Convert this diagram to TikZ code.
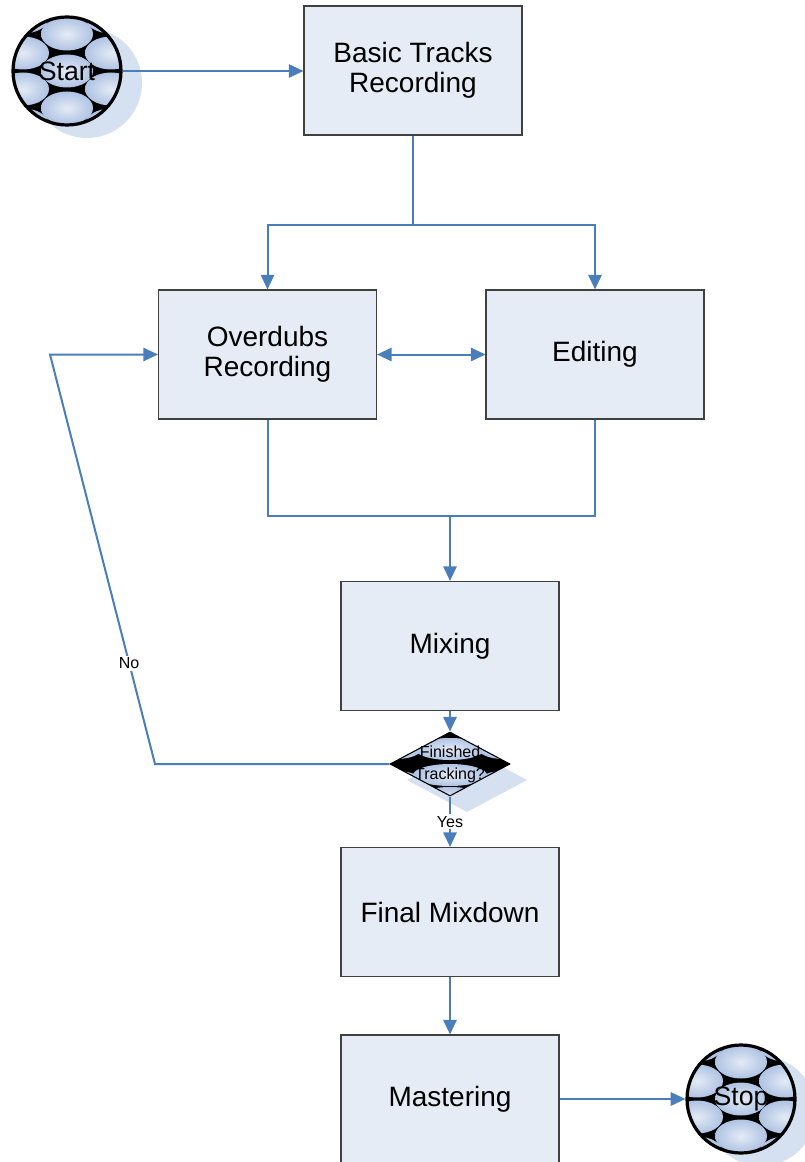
\documentclass[tikz,border=0pt]{standalone}
\usepackage{fontspec}
\setmainfont{Liberation Sans}
\usetikzlibrary{shapes.geometric,arrows.meta}
\definecolor{boxfill}{HTML}{E6ECF6}
\definecolor{lineblue}{HTML}{4A7EBB}
\definecolor{shadowblue}{HTML}{D5E0F0}
\definecolor{ballblue}{HTML}{AFC3E3}
\definecolor{ballcenter}{HTML}{E4EBF6}
\newcommand{\myball}[1]{%
  \begin{scope}[shift={(#1)}]
    \fill[shadowblue] (20,12) circle[radius=55];
    \begin{scope}
      \clip (0,0) circle[radius=54];
      \fill[black] (0,0) circle[radius=55];
      \foreach \a/\b in {0/-37,0/0,0/37,-44/-18,-44/18,44/-18,44/18,-44/54,44/54,-44/-54,44/-54}
        \shade[inner color=ballcenter, outer color=ballblue] (\a,\b) ellipse[x radius=26, y radius=16.5];
    \end{scope}
  \end{scope}}
\begin{document}
\begin{tikzpicture}[x=0.75pt,y=-0.75pt,
  proc/.style={rectangle, draw=black!75, fill=boxfill, line width=0.8pt,
    minimum width=163.5pt, minimum height=96.75pt, align=center,
    font=\fontsize{21}{22.5}\selectfont},
  ball/.style={circle, draw=black, line width=2.4pt, minimum size=81pt, inner sep=0pt,
    font=\fontsize{20}{22}\selectfont},
  lab/.style={font=\fontsize{12}{14}\selectfont, fill=white, inner sep=1.5pt},
  line/.style={draw=lineblue, line width=1.5pt},
  conn/.style={line, -{Triangle[length=11pt,width=10pt]}},
  dconn/.style={line, {Triangle[length=11pt,width=10pt]}-{Triangle[length=11pt,width=10pt]}}]
\useasboundingbox (0,0) rectangle (805,1162);

% process boxes
\node[proc] (basic) at (413,70.5) {Basic Tracks\\Recording};
\node[proc] (overdubs) at (267.5,354.5) {Overdubs\\Recording};
\node[proc] (editing) at (595,354.5) {Editing};
\node[proc] (mixing) at (450,646) {Mixing};
\node[proc] (final) at (450,912) {Final Mixdown};
\node[proc] (mastering) at (450,1099.5) {Mastering};

% start / stop balls
\myball{67,71}
\node[ball] (start) at (67,71) {Start};
\myball{741,1099}
\node[ball] (stop) at (741,1099) {Stop};

% decision diamond
\fill[shadowblue] (407,780) -- (467,748) -- (527,780) -- (467,812) -- cycle;
\begin{scope}
  \clip (390,764) -- (450,732) -- (510,764) -- (450,796) -- cycle;
  \fill[black] (390,764) -- (450,732) -- (510,764) -- (450,796) -- cycle;
  \foreach \a/\b/\r in {450/749/35,450/775/37,450/798/33,397/748/25,503/748/25,397/782/25,503/782/25}
    \shade[inner color=ballcenter, outer color=ballblue] (\a,\b) ellipse[x radius=\r, y radius=11];
\end{scope}
\node[diamond, draw=black, line width=0.8pt, minimum width=90pt, minimum height=48pt,
  inner sep=0pt, aspect=1.875,
  label={[font=\fontsize{12}{16.5}\selectfont, align=center]center:Finished\\Tracking?}] (dec) at (450,764) {};

% connectors
\coordinate (split) at (413,225);
\coordinate (merge) at (450,516);
\coordinate (nobottom) at (155,764);
\coordinate (notop) at (50,354.5);

\draw[conn] (start.east) -- (start.east -| basic.west);
\draw[line] (basic.south) -- (split);
\draw[conn] (split) -| (overdubs.north);
\draw[conn] (split) -| (editing.north);
\draw[dconn] (overdubs.east) -- (editing.west);
\draw[line] (overdubs.south) |- (merge) -| (editing.south);
\draw[conn] (merge) -- (mixing.north);
\draw[conn] (mixing.south) -- (dec.north);
\draw[conn] (dec.west) -- (nobottom) -- node[lab, pos=0.246] {No} (notop) -- (overdubs.west);
\draw[conn] (dec.south) -- node[lab, pos=0.5] {Yes} (final.north);
\draw[conn] (final.south) -- (mastering.north);
\draw[conn] (mastering.east |- stop.west) -- (stop.west);
\end{tikzpicture}
\end{document}
